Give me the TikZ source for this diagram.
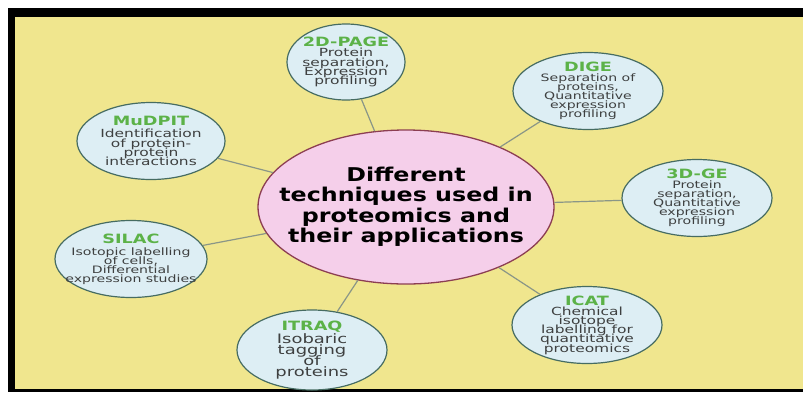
\documentclass[tikz,border=0pt]{standalone}
\usepackage{fontspec}
\usepackage{tikz}
\usetikzlibrary{shapes,backgrounds,positioning}

\newfontfamily\TechFont[FakeStretch=1.38]{DejaVu Sans}
\newfontfamily\HubFont[FakeStretch=1.25]{DejaVu Sans}

\definecolor{Paper}{RGB}{240,230,142}
\definecolor{TechFill}{RGB}{221,238,244}
\definecolor{TechEdge}{RGB}{70,108,98}
\definecolor{HubFill}{RGB}{245,207,234}
\definecolor{HubEdge}{RGB}{140,62,82}
\definecolor{LinkGray}{RGB}{138,150,135}
\definecolor{TitleGreen}{RGB}{92,178,72}
\definecolor{BodyGray}{RGB}{62,64,64}

\newcommand{\TechName}[1]{{\fontsize{12.8}{12}\selectfont\bfseries\color{TitleGreen}#1}}
\lineskiplimit=-20pt
\normallineskiplimit=-20pt

\begin{document}
\begin{tikzpicture}[x=1pt, y=-1pt]
			\tikzstyle{Hub}		= [ellipse, draw=HubEdge, line width=1.3pt, fill=HubFill, minimum width=296pt, minimum height=154pt, inner sep=-40pt, align=center, font={\HubFont\bfseries\fontsize{19}{20.5}\selectfont\lineskiplimit=-20pt}]
			\tikzstyle{Tech}	= [ellipse, draw=TechEdge, line width=1.2pt, fill=TechFill, minimum width=150pt, minimum height=77pt, inner sep=-40pt, align=center, text=BodyGray]
			\tikzstyle{Small}	= [font={\TechFont\fontsize{10.2}{9}\selectfont\lineskiplimit=-20pt}]
			\tikzstyle{Large}	= [font={\TechFont\fontsize{11.2}{9.2}\selectfont\lineskiplimit=-20pt}]
			\tikzstyle{Link}	= [LinkGray, line width=1.2pt]
			
			% frame
			\useasboundingbox (0, 0) rectangle (803, 392);
			\fill [black] (8, 8) rectangle (803, 392);
			\fill [Paper] (15, 17) rectangle (803, 389);
			
			\node (hub) at (406, 207) [Hub] {Different\\techniques used in\\proteomics and\\their applications};
			
			\node (page) at (346, 62) [Tech, Large, minimum width=118pt, minimum height=76pt] {\TechName{2D-PAGE}\\[1pt]Protein\\separation,\\Expression\\profiling};
			\node (dige) at (588, 91) [Tech, Small] {\TechName{DIGE}\\[1pt]Separation of\\proteins,\\Quantitative\\expression\\profiling};
			\node (ge) at (697, 198) [Tech, Small] {\TechName{3D-GE}\\[1pt]Protein\\separation,\\Quantitative\\expression\\profiling};
			\node (icat) at (587, 325) [Tech, Large] {\TechName{ICAT}\\[1pt]Chemical\\isotope\\labelling for\\quantitative\\proteomics};
			\node (itraq) at (312, 350) [Tech, minimum height=80pt, font={\TechFont\fontsize{13}{10.8}\selectfont\lineskiplimit=-20pt}] {\TechName{ITRAQ}\\[2pt]Isobaric\\tagging\\of\\proteins};
			\node (silac) at (131, 259) [Tech, Small, minimum width=152pt] {\TechName{SILAC}\\[3pt]Isotopic labelling\\of cells,\\Differential\\expression studies};
			\node (mudpit) at (151, 141) [Tech, Large, minimum width=148pt] {\TechName{MuDPIT}\\[3pt]Identification\\of protein-\\protein\\interactions};
			
			\draw [-] (hub) to (page) [Link];
			\draw [-] (hub) to (dige) [Link];
			\draw [-] (hub) to (ge) [Link];
			\draw [-] (hub) to (icat) [Link];
			\draw [-] (hub) to (itraq) [Link];
			\draw [-] (hub) to (silac) [Link];
			\draw [-] (hub) to (mudpit) [Link];
		\end{tikzpicture}
\end{document}
